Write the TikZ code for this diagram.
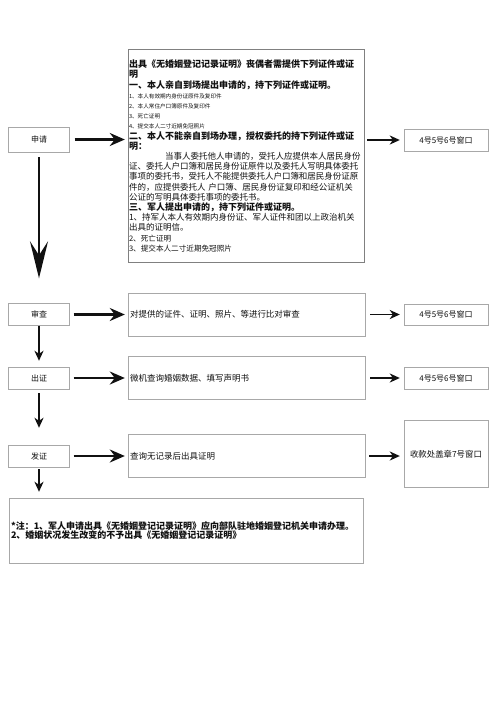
\documentclass[tikz,border=0pt]{standalone}
\usepackage{fontspec}
\setmainfont{Noto Sans CJK SC}
\usetikzlibrary{arrows.meta, positioning, calc}
\definecolor{boxgray}{HTML}{A8A8A8}
\definecolor{framegray}{HTML}{808080}
\definecolor{inkblack}{HTML}{111111}

\newcommand{\hdline}[1]{{\fontsize{9}{10.2}\selectfont\bfseries #1}}
\newcommand{\tinyline}[1]{{\fontsize{5.6}{10.2}\selectfont #1}}
\newcommand{\midline}[1]{{\fontsize{7.6}{10.2}\selectfont #1}}

\tikzset{
  stepbox/.style={draw=boxgray, minimum width=61pt, minimum height=22pt, inner sep=0pt,
    font=\fontsize{8}{9}\selectfont, text=inkblack},
  infobox/.style={draw=boxgray, minimum width=237pt, minimum height=43pt, text width=233pt,
    inner sep=2pt, align=left, font=\fontsize{8.5}{10}\selectfont, text=inkblack},
  winbox/.style={draw=boxgray, minimum width=84pt, minimum height=22pt, inner sep=0pt,
    font=\fontsize{8}{9}\selectfont, text=inkblack},
  rowarrow/.style={inkblack, line width=2.4pt, -{Stealth[length=15pt, width=13pt, inset=5pt]}},
  sidearrow/.style={inkblack, line width=1.6pt, -{Stealth[length=10pt, width=9pt, inset=3pt]}},
  bigdown/.style={inkblack, line width=2.6pt, -{Stealth[length=37pt, width=18pt, inset=14pt]}},
  downarrow/.style={inkblack, line width=1.6pt, -{Stealth[length=10pt, width=9pt, inset=3pt]}}
}

\begin{document}
\begin{tikzpicture}[x=1pt, y=-1pt]

% Page
\useasboundingbox[fill=white] (0,0) rectangle (496,702);

% Left column
\node[stepbox, minimum height=25pt] (apply) at (39,139.5) {申请};
\node[stepbox] (check) at (39,314.5) {审查};
\node[stepbox] (issue) at (39,378) {出证};
\node[stepbox] (send) at (39,456) {发证};

% Requirements box
\node[draw=framegray, minimum width=236pt, minimum height=213pt, inner sep=0pt] (req) at (246,155.5) {};
\node[anchor=north west, text width=235pt, inner sep=0pt, align=left, text=inkblack,
  font=\fontsize{8.5}{10.2}\selectfont] (reqtext) at ([shift={(1,11)}]req.north west) {%
\hdline{出具《无婚姻登记记录证明》丧偶者需提供下列证件或证}\\
\hdline{明}\\
\hdline{一、本人亲自到场提出申请的，持下列证件或证明。}\\
\tinyline{1、本人有效期内身份证原件及复印件}\\
\tinyline{2、本人常住户口簿原件及复印件}\\
\tinyline{3、死亡证明}\\
\tinyline{4、提交本人二寸近期免冠照片}\\
\hdline{二、本人不能亲自到场办理，授权委托的持下列证件或证}\\
\hdline{明：}\\
\hspace*{36pt}当事人委托他人申请的，受托人应提供本人居民身份\\
证、委托人户口簿和居民身份证原件以及委托人写明具体委托\\
事项的委托书，受托人不能提供委托人户口簿和居民身份证原\\
件的，应提供委托人 户口簿、居民身份证复印和经公证机关\\
公证的写明具体委托事项的委托书。\\
\hdline{三、军人提出申请的，持下列证件或证明。}\\
1、持军人本人有效期内身份证、军人证件和团以上政治机关\\
出具的证明信。\\
\midline{2、死亡证明}\\
\midline{3、提交本人二寸近期免冠照片}};

% Step details
\node[infobox] (checkinfo) at (246.5,314.5) {对提供的证件、证明、照片、等进行比对审查};
\node[infobox] (issueinfo) at (246.5,378) {微机查询婚姻数据、填写声明书};
\node[infobox] (sendinfo) at (246.5,456) {查询无记录后出具证明};

% Windows
\node[winbox] (win1) at (446,140) {4号5号6号窗口};
\node[winbox, minimum height=21pt] (win2) at (446,314.5) {4号5号6号窗口};
\node[winbox] (win3) at (446,378) {4号5号6号窗口};
\node[winbox, minimum height=67pt, font=\fontsize{8.4}{9}\selectfont] (win4) at (446,454) {收款处盖章7号窗口};

% Note
\node[draw=boxgray, minimum width=354pt, minimum height=65pt, text width=350pt, inner sep=2pt,
  align=left, text=inkblack, font=\fontsize{9}{9.6}\selectfont\bfseries] (note) at (186,530.5)
  {*注：1、军人申请出具《无婚姻登记记录证明》应向部队驻地婚姻登记机关申请办理。\\
   2、婚姻状况发生改变的不予出具《无婚姻登记记录证明》};

% Arrows to the details
\draw[rowarrow, shorten <=5pt, shorten >=3pt] (apply) -- (apply -| req.west);
\draw[rowarrow, shorten <=4pt, shorten >=3pt] (check) -- (check -| checkinfo.west);
\draw[rowarrow, shorten <=4pt, shorten >=3pt] (issue) -- (issue -| issueinfo.west);
\draw[rowarrow, shorten <=4pt, shorten >=3pt] (send) -- (send -| sendinfo.west);

% Arrows to the windows
\draw[sidearrow, shorten <=3pt, shorten >=4pt] (win1 -| req.east) -- (win1);
\draw[sidearrow, shorten <=5pt, shorten >=4pt] (checkinfo) -- (checkinfo -| win2.west);
\draw[sidearrow, shorten <=5pt, shorten >=4pt] (issueinfo) -- (issueinfo -| win3.west);
\draw[sidearrow, shorten <=4pt, shorten >=4pt] (sendinfo) -- (sendinfo -| win4.west);

% Down the left column
\draw[bigdown, shorten <=5pt, shorten >=25pt] (apply) -- (check);
\draw[downarrow, shorten >=6pt] (check) -- (issue);
\draw[downarrow, shorten <=4pt, shorten >=17pt] (issue) -- (send);
\draw[downarrow, shorten <=2pt, shorten >=6pt] (send) -- (send |- note.north);

\end{tikzpicture}
\end{document}
